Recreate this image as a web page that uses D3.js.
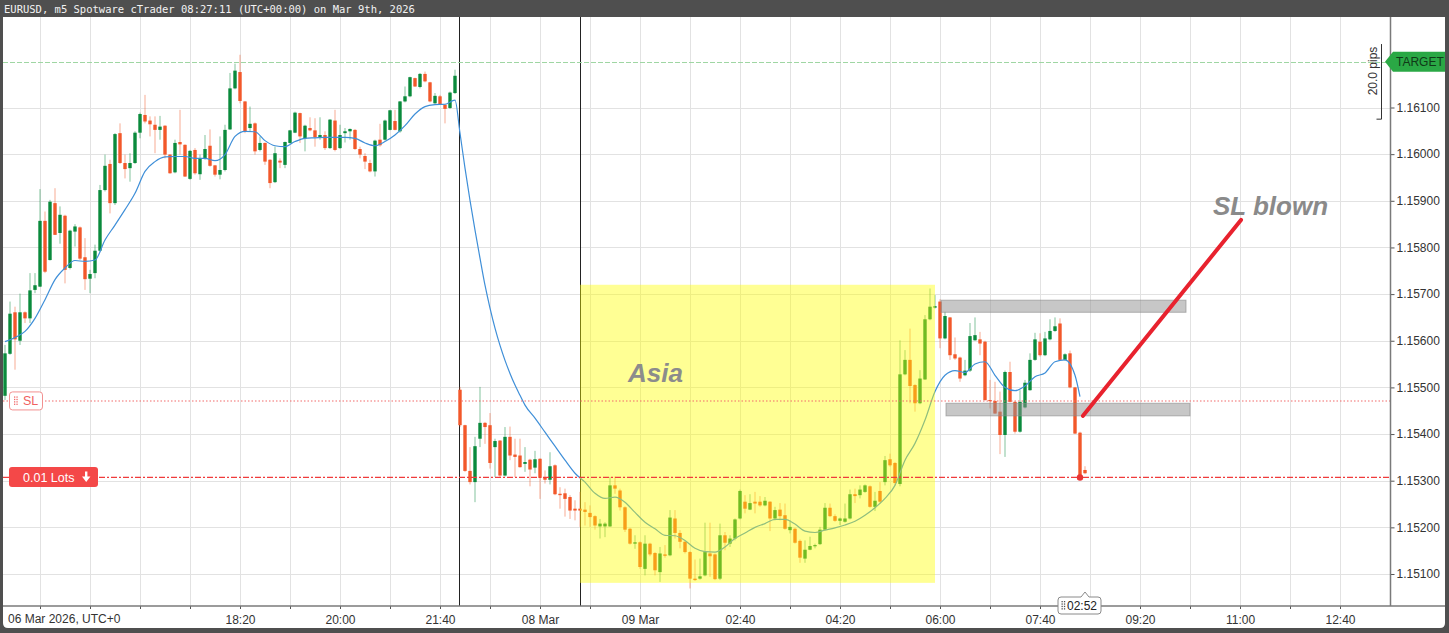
<!DOCTYPE html>
<html><head><meta charset="utf-8">
<script src="https://cdn.jsdelivr.net/npm/d3@7"></script>
<style>html,body{margin:0;padding:0;background:#fff;overflow:hidden}</style>
</head><body>
<svg id="c" width="1449" height="633"></svg>
<script>
// ---- data (EURUSD m5, candle index 0 = 06 Mar 14:25 UTC) ----
const opens = [
1.15482,1.15572,1.15661,1.15600,1.15661,1.15648,1.15709,1.15716,1.15857,1.15773,
1.15895,1.15831,1.15868,1.15756,1.15834,1.15843,1.15779,1.15733,1.15745,1.15793,
1.15923,1.15979,1.15895,1.16045,1.15981,1.15970,1.15981,1.16046,1.16084,1.16072,
1.16063,1.16052,1.16061,1.15999,1.15961,1.16026,1.16020,1.15947,1.16009,1.15957,
1.15991,1.16018,1.15976,1.15956,1.15966,1.16053,1.16141,1.16176,1.16113,1.16056,
1.16066,1.16009,1.16024,1.15988,1.15940,1.15986,1.15977,1.16024,1.16046,1.16088,
1.16034,1.16056,1.16051,1.16036,1.16041,1.16013,1.16072,1.16013,1.16045,1.16049,
1.16052,1.16011,1.15996,1.15981,1.15963,1.16031,1.16031,1.16052,1.16071,1.16049,
1.16113,1.16124,1.16163,1.16144,1.16172,1.16154,1.16109,1.16124,1.16106,1.16099,
1.16131,1.15495,1.15419,1.15321,1.15297,1.15390,1.15424,1.15419,1.15372,1.15386,
1.15311,1.15394,1.15356,1.15354,1.15336,1.15345,1.15328,1.15347,1.15306,1.15302,
1.15333,1.15272,1.15273,1.15265,1.15240,1.15240,1.15238,1.15231,1.15224,1.15202,
1.15202,1.15202,1.15290,1.15279,1.15243,1.15197,1.15165,1.15168,1.15111,1.15165,
1.15145,1.15104,1.15142,1.15140,1.15219,1.15188,1.15169,1.15147,1.15090,1.15090,
1.15097,1.15144,1.15142,1.15090,1.15183,1.15165,1.15176,1.15219,1.15255,1.15238,
1.15255,1.15255,1.15247,1.15255,1.15219,1.15238,1.15226,1.15194,1.15197,1.15171,
1.15133,1.15152,1.15160,1.15164,1.15195,1.15242,1.15224,1.15214,1.15212,1.15219,
1.15271,1.15269,1.15276,1.15288,1.15244,1.15278,1.15297,1.15346,1.15338,1.15293,
1.15528,1.15559,1.15505,1.15466,1.15517,1.15646,1.15671,1.15684,1.15605,1.15650,
1.15571,1.15564,1.15526,1.15536,1.15601,1.15603,1.15598,1.15473,1.15471,1.15448,
1.15398,1.15533,1.15469,1.15405,1.15457,1.15494,1.15559,1.15598,1.15569,1.15603,
1.15621,1.15637,1.15559,1.15573,1.15500,1.15403,1.15323];
const highs = [
1.15591,1.15684,1.15673,1.15701,1.15663,1.15745,1.15745,1.15925,1.15877,1.15902,
1.15927,1.15888,1.15870,1.15838,1.15850,1.15845,1.15820,1.15752,1.15806,1.15934,
1.15999,1.15988,1.16045,1.16066,1.15999,1.16002,1.16049,1.16089,1.16127,1.16081,
1.16081,1.16082,1.16062,1.16000,1.16031,1.16095,1.16021,1.16009,1.16013,1.15999,
1.16041,1.16053,1.15977,1.16038,1.16063,1.16174,1.16194,1.16213,1.16114,1.16102,
1.16068,1.16038,1.16025,1.15989,1.16016,1.15991,1.16027,1.16052,1.16091,1.16089,
1.16063,1.16079,1.16077,1.16079,1.16049,1.16075,1.16095,1.16063,1.16056,1.16055,
1.16054,1.16016,1.16002,1.15988,1.16031,1.16065,1.16074,1.16095,1.16095,1.16114,
1.16145,1.16166,1.16164,1.16174,1.16177,1.16155,1.16131,1.16127,1.16107,1.16134,
1.16181,1.15501,1.15420,1.15372,1.15394,1.15501,1.15426,1.15445,1.15390,1.15387,
1.15415,1.15416,1.15390,1.15390,1.15372,1.15347,1.15364,1.15348,1.15322,1.15361,
1.15335,1.15286,1.15283,1.15269,1.15258,1.15276,1.15254,1.15247,1.15226,1.15218,
1.15211,1.15308,1.15309,1.15283,1.15245,1.15199,1.15183,1.15170,1.15183,1.15167,
1.15147,1.15158,1.15162,1.15237,1.15237,1.15194,1.15171,1.15149,1.15131,1.15133,
1.15210,1.15210,1.15144,1.15208,1.15190,1.15183,1.15219,1.15281,1.15269,1.15271,
1.15276,1.15267,1.15265,1.15256,1.15244,1.15252,1.15251,1.15215,1.15199,1.15174,
1.15172,1.15180,1.15165,1.15201,1.15252,1.15251,1.15228,1.15221,1.15251,1.15281,
1.15283,1.15290,1.15292,1.15290,1.15276,1.15297,1.15353,1.15358,1.15340,1.15601,
1.15580,1.15626,1.15507,1.15537,1.15655,1.15712,1.15698,1.15689,1.15662,1.15651,
1.15607,1.15566,1.15559,1.15638,1.15650,1.15619,1.15600,1.15516,1.15512,1.15491,
1.15536,1.15555,1.15471,1.15494,1.15516,1.15573,1.15617,1.15616,1.15619,1.15646,
1.15650,1.15648,1.15573,1.15579,1.15501,1.15405,1.15331];
const lows = [
1.15473,1.15570,1.15538,1.15591,1.15638,1.15638,1.15702,1.15715,1.15745,1.15772,
1.15827,1.15808,1.15723,1.15753,1.15802,1.15773,1.15709,1.15702,1.15734,1.15791,
1.15920,1.15873,1.15891,1.15979,1.15948,1.15941,1.15979,1.16034,1.16066,1.16038,
1.16002,1.16031,1.15991,1.15958,1.15959,1.15999,1.15951,1.15945,1.15956,1.15945,
1.15988,1.15973,1.15952,1.15946,1.15963,1.16052,1.16139,1.16109,1.16045,1.16049,
1.15999,1.16006,1.15977,1.15927,1.15938,1.15970,1.15970,1.16022,1.16045,1.16024,
1.16006,1.16049,1.16016,1.16031,1.16009,1.16011,1.16006,1.16011,1.16025,1.16031,
1.16009,1.15991,1.15968,1.15961,1.15952,1.16016,1.16029,1.16051,1.16051,1.16046,
1.16111,1.16122,1.16144,1.16141,1.16154,1.16111,1.16107,1.16106,1.16066,1.16097,
1.16129,1.15415,1.15319,1.15292,1.15254,1.15372,1.15379,1.15326,1.15308,1.15308,
1.15309,1.15344,1.15308,1.15328,1.15319,1.15288,1.15316,1.15261,1.15294,1.15292,
1.15269,1.15240,1.15223,1.15218,1.15215,1.15201,1.15204,1.15201,1.15195,1.15176,
1.15179,1.15201,1.15272,1.15236,1.15190,1.15163,1.15154,1.15111,1.15097,1.15138,
1.15097,1.15083,1.15135,1.15138,1.15176,1.15155,1.15144,1.15069,1.15085,1.15088,
1.15095,1.15094,1.15087,1.15087,1.15151,1.15158,1.15172,1.15217,1.15230,1.15237,
1.15230,1.15244,1.15245,1.15192,1.15215,1.15215,1.15195,1.15187,1.15165,1.15124,
1.15124,1.15151,1.15155,1.15162,1.15194,1.15222,1.15212,1.15205,1.15210,1.15217,
1.15252,1.15262,1.15274,1.15242,1.15235,1.15251,1.15290,1.15330,1.15290,1.15288,
1.15526,1.15466,1.15448,1.15464,1.15516,1.15644,1.15669,1.15584,1.15603,1.15559,
1.15559,1.15512,1.15524,1.15533,1.15600,1.15569,1.15471,1.15455,1.15443,1.15357,
1.15351,1.15468,1.15401,1.15403,1.15455,1.15493,1.15557,1.15566,1.15567,1.15601,
1.15619,1.15557,1.15557,1.15498,1.15400,1.15305,1.15314];
const closes = [
1.15573,1.15658,1.15603,1.15661,1.15648,1.15708,1.15719,1.15857,1.15748,1.15898,
1.15827,1.15870,1.15752,1.15836,1.15845,1.15776,1.15732,1.15743,1.15793,1.15923,
1.15975,1.15895,1.16043,1.15981,1.15968,1.15981,1.16046,1.16086,1.16070,1.16064,
1.16052,1.16059,1.15999,1.15959,1.16024,1.16021,1.15952,1.16007,1.15959,1.15991,
1.16011,1.15975,1.15956,1.15966,1.16052,1.16141,1.16179,1.16114,1.16049,1.16065,
1.16006,1.16024,1.15984,1.15938,1.16002,1.15982,1.16026,1.16051,1.16089,1.16038,
1.16061,1.16051,1.16036,1.16041,1.16013,1.16074,1.16009,1.16041,1.16049,1.16054,
1.16011,1.15999,1.15984,1.15963,1.16029,1.16019,1.16072,1.16094,1.16052,1.16113,
1.16124,1.16165,1.16145,1.16172,1.16156,1.16113,1.16125,1.16107,1.16097,1.16132,
1.16168,1.15419,1.15321,1.15297,1.15374,1.15424,1.15415,1.15338,1.15385,1.15311,
1.15394,1.15354,1.15351,1.15329,1.15340,1.15324,1.15346,1.15306,1.15302,1.15331,
1.15271,1.15269,1.15261,1.15236,1.15236,1.15236,1.15233,1.15222,1.15204,1.15208,
1.15208,1.15290,1.15283,1.15243,1.15195,1.15165,1.15168,1.15115,1.15165,1.15142,
1.15108,1.15144,1.15139,1.15221,1.15188,1.15169,1.15147,1.15090,1.15087,1.15095,
1.15147,1.15138,1.15089,1.15183,1.15167,1.15176,1.15217,1.15278,1.15240,1.15252,
1.15251,1.15247,1.15257,1.15219,1.15237,1.15224,1.15197,1.15201,1.15167,1.15135,
1.15152,1.15160,1.15162,1.15195,1.15242,1.15224,1.15214,1.15219,1.15219,1.15271,
1.15267,1.15281,1.15290,1.15244,1.15257,1.15255,1.15344,1.15333,1.15295,1.15528,
1.15559,1.15503,1.15466,1.15519,1.15646,1.15673,1.15674,1.15605,1.15653,1.15569,
1.15562,1.15519,1.15536,1.15610,1.15612,1.15594,1.15473,1.15471,1.15444,1.15398,
1.15533,1.15469,1.15405,1.15469,1.15510,1.15559,1.15603,1.15569,1.15605,1.15621,
1.15631,1.15559,1.15571,1.15500,1.15401,1.15308,1.15316];

// moving average (candle index / value)
const maIdx = [0,2,4,6,8,10,12,14,16,18,20,22,24,26,28,30,32,34,36,38,40,42,44,46,48,50,52,54,56,58,60,62,64,66,68,70,72,74,76,78,80,82,84,86,88,90,
91,92,93,94,95,96,97,98,99,100,101,102,103,104,
106,108,110,112,114,116,118,120,122,124,126,128,
130,132,134,136,138,140,142,144,146,148,150,152,154,156,158,160,162,164,166,168,170,172,174,176,178,
180,182,184,186,188,190,192,194,196,198,200,202,204,206,208,210,212,214,215];
const maVal = [1.15598,1.15607,1.15620,1.15648,1.15688,1.15731,1.15756,1.15772,1.15770,1.15773,
1.15816,1.15848,1.15881,1.15916,1.15963,1.15984,1.15994,1.15995,1.15995,1.15991,
1.15991,1.15986,1.15999,1.16038,1.16049,1.16048,1.16029,1.16018,1.16016,1.16027,
1.16034,1.16035,1.16036,1.16036,1.16036,1.16034,1.16024,1.16018,1.16027,1.16041,
1.16061,1.16086,1.16102,1.16106,1.16107,1.16116,
1.16045,1.15970,1.15901,1.15837,1.15777,1.15719,1.15670,1.15627,1.15590,1.15558,1.15530,1.15505,1.15483,1.15462,
1.15434,1.15404,1.15374,1.15344,1.15316,1.15297,1.15273,1.15262,1.15265,1.15254,1.15232,1.15211,
1.15197,1.15183,1.15182,1.15172,1.15155,1.15148,1.15147,1.15158,1.15176,1.15188,1.15200,1.15208,1.15217,1.15217,1.15207,1.15192,1.15189,1.15194,1.15199,1.15205,1.15213,1.15226,1.15242,1.15262,1.15290,
1.15344,1.15380,1.15430,1.15491,1.15526,1.15536,1.15532,1.15550,1.15555,1.15526,1.15500,1.15493,1.15503,1.15523,1.15531,1.15555,1.15559,1.15526,1.15480];

const priceTicks = [1.151,1.152,1.153,1.154,1.155,1.156,1.157,1.158,1.159,1.160,1.161];
const gridIdx = d3.range(7, 268, 10);
const labelIdx = [47,67,87,107,127,147,167,187,207,227,247,267];
const labelText = ["18:20","20:00","21:40","08 Mar","09 Mar","02:40","04:20","06:00","07:40","09:20","11:00","12:40"];
const firstLabel = "06 Mar 2026, UTC+0";
const title = "EURUSD, m5 Spotware cTrader 08:27:11 (UTC+00:00) on Mar 9th, 2026";
const separatorIdx = [90.8, 115];
const targetPrice = 1.16198, slPrice = 1.15471, entryPrice = 1.15307;
const asiaBox = {i0:115, i1:186, p0:1.15720, p1:1.15081};
const zones = [{i0:187.2, i1:236.2, p0:1.15687, p1:1.15661},{i0:188.2, i1:237, p0:1.15466, p1:1.15439}];
const arrowLine = {i0:215.6, p0:1.15439, i1:247.2, p1:1.15859};
const pipsBracket = {p0:1.16236, p1:1.16075};
const entryIdx = 215, currentIdx = 216;

// ---- drawing ----
const svg = d3.select('#c');
const FONT = "'Liberation Sans', Arial, sans-serif";
const R = 1390.5, B = 606, T = 17, L = 3;
const x = d3.scaleLinear().domain([0, 277]).range([5, 1390]);
const y = d3.scaleLinear().domain([1.151, 1.161]).range([574, 107.5]);
const px = v => Math.round(v) + 0.5;

svg.append('rect').attr('width',1449).attr('height',633).attr('fill','#4f4f4f');
svg.append('path').attr('d','M3,17 H1445 V623 Q1445,628 1440,628 H8 Q3,628 3,623 Z').attr('fill','#fff');
svg.append('text').attr('x',4).attr('y',12.5).attr('fill','#f2f2f2')
  .attr('font-family',"'DejaVu Sans Mono', monospace").attr('font-size',10.5).text(title);

const defs = svg.append('defs');
defs.append('clipPath').attr('id','clip').append('rect').attr('x',L).attr('y',T).attr('width',R-L).attr('height',B-T);
const g = svg.append('g').attr('clip-path','url(#clip)');

// grid
g.selectAll('line.hg').data(priceTicks).join('line')
  .attr('x1',L).attr('x2',R).attr('y1',d=>px(y(d))).attr('y2',d=>px(y(d))).attr('stroke','#e2e2e2');
g.selectAll('line.vg').data(gridIdx).join('line')
  .attr('x1',d=>px(x(d))).attr('x2',d=>px(x(d))).attr('y1',T).attr('y2',B).attr('stroke','#e2e2e2');

// period separators
g.selectAll('line.sep').data(separatorIdx).join('line')
  .attr('x1',d=>px(x(d))).attr('x2',d=>px(x(d))).attr('y1',T).attr('y2',B).attr('stroke','#222').attr('stroke-width',1);

// target line
g.append('line').attr('x1',L).attr('x2',R).attr('y1',px(y(targetPrice))).attr('y2',px(y(targetPrice)))
  .attr('stroke','#9fd6a3').attr('stroke-width',1.2).attr('stroke-dasharray','5,2');

// candles
const idx = d3.range(opens.length);
const bull = '#0a8a3c', bear = '#f2582a';
const isUp = i => closes[i] >= opens[i];
g.selectAll('line.wick').data(idx).join('line')
  .attr('x1',i=>x(i)).attr('x2',i=>x(i)).attr('y1',i=>y(highs[i])).attr('y2',i=>y(lows[i]))
  .attr('stroke',i=>isUp(i)?bull:bear).attr('stroke-opacity',0.5).attr('stroke-width',1);
const bw = 3.4;
g.selectAll('rect.body').data(idx).join('rect')
  .attr('x',i=>x(i)-bw/2).attr('width',bw)
  .attr('y',i=>y(Math.max(opens[i],closes[i])))
  .attr('height',i=>Math.max(1.2, Math.abs(y(opens[i])-y(closes[i]))))
  .attr('fill',i=>isUp(i)?bull:bear);

// moving average
const maPts = maIdx.map((d,k)=>[d, maVal[k]]);
g.append('path').datum(maPts)
  .attr('d', d3.line().x(d=>x(d[0])).y(d=>y(d[1])).curve(d3.curveMonotoneX))
  .attr('fill','none').attr('stroke','#3f8fd8').attr('stroke-width',1.2);

// Asia session box
g.append('rect').attr('x',x(asiaBox.i0)).attr('width',x(asiaBox.i1)-x(asiaBox.i0))
  .attr('y',y(asiaBox.p0)).attr('height',y(asiaBox.p1)-y(asiaBox.p0))
  .attr('fill','#ffff00').attr('fill-opacity',0.42);
g.append('text').attr('x',x(124.6)).attr('y',y(1.15512)).attr('font-family',FONT)
  .attr('font-size',26).attr('font-weight','bold').attr('font-style','italic').attr('fill','#8c8c8c').text('Asia');

// zones
g.selectAll('rect.zone').data(zones).join('rect')
  .attr('x',d=>x(d.i0)).attr('width',d=>x(d.i1)-x(d.i0))
  .attr('y',d=>y(d.p0)).attr('height',d=>y(d.p1)-y(d.p0))
  .attr('fill','#8f8f8f').attr('fill-opacity',0.5).attr('stroke','#8a8a8a').attr('stroke-opacity',0.6);

// SL / entry lines
g.append('line').attr('x1',L).attr('x2',R).attr('y1',y(slPrice)).attr('y2',y(slPrice))
  .attr('stroke','#f26a6a').attr('stroke-width',1.1).attr('stroke-dasharray','1.5,2');
g.append('line').attr('x1',L).attr('x2',R).attr('y1',y(entryPrice)).attr('y2',y(entryPrice))
  .attr('stroke','#f03c3c').attr('stroke-width',1.2).attr('stroke-dasharray','6,2,2,2');

// SL blown arrow line
g.append('line').attr('x1',x(arrowLine.i0)).attr('y1',y(arrowLine.p0))
  .attr('x2',x(arrowLine.i1)).attr('y2',y(arrowLine.p1))
  .attr('stroke','#e8222e').attr('stroke-width',4).attr('stroke-linecap','round');
g.append('text').attr('x',x(241.6)).attr('y',y(1.15870)).attr('font-family',FONT)
  .attr('font-size',26).attr('font-weight','bold').attr('font-style','italic').attr('fill','#8a8a8a').text('SL blown');

// entry dot
g.append('circle').attr('cx',x(entryIdx)).attr('cy',y(entryPrice)).attr('r',3.2).attr('fill','#e83434');

// pips bracket
const bx = 1381.5;
g.append('path').attr('d',`M${bx},${y(pipsBracket.p0)} V${y(pipsBracket.p1)} H${bx-5}`)
  .attr('fill','none').attr('stroke','#333').attr('stroke-width',1);
g.append('text').attr('transform',`translate(1377,71) rotate(-90)`)
  .attr('text-anchor','middle').attr('font-family',FONT).attr('font-size',12).attr('fill','#333').text('20.0 pips');

// axes
const ax = svg.append('g').attr('transform',`translate(0,${B})`)
  .call(d3.axisBottom(x).tickValues(gridIdx).tickSize(3).tickPadding(6)
    .tickFormat(d => { const k = labelIdx.indexOf(d); return k>=0 ? labelText[k] : ''; }));
ax.select('.domain').remove();
ax.selectAll('line').attr('stroke','#555');
ax.selectAll('text').attr('font-family',FONT).attr('font-size',12).attr('fill','#333');
svg.append('text').attr('x',x(0.6)).attr('y',B+17).attr('font-family',FONT).attr('font-size',12).attr('fill','#333').text(firstLabel);

const ay = svg.append('g').attr('transform',`translate(${R},0)`)
  .call(d3.axisRight(y).tickValues(priceTicks).tickSize(4).tickPadding(2).tickFormat(d3.format('.5f')));
ay.select('.domain').remove();
ay.selectAll('line').attr('stroke','#555');
ay.selectAll('text').attr('font-family',FONT).attr('font-size',12).attr('fill','#333');

svg.append('line').attr('x1',L).attr('x2',1445).attr('y1',B).attr('y2',B).attr('stroke','#7a7a7a').attr('stroke-width',1.5);
svg.append('line').attr('x1',R).attr('x2',R).attr('y1',T).attr('y2',B).attr('stroke','#7a7a7a').attr('stroke-width',1.5);

// TARGET label
const ty = y(targetPrice);
svg.append('path').attr('d',`M1385,${ty} L1393,${ty-10} H1445 V${ty+10} H1393 Z`).attr('fill','#2aa845');
svg.append('text').attr('x',1396).attr('y',ty+4.5).attr('font-family',FONT).attr('font-size',12).attr('fill','#103a18').text('TARGET');

// grip helper
function grip(gx, gy, color){
  for (let c=0;c<2;c++) for (let r=0;r<4;r++)
    svg.append('rect').attr('x',gx+c*2.4).attr('y',gy+r*2.4).attr('width',1.3).attr('height',1.3).attr('fill',color);
}
// SL label
const sy = y(slPrice);
svg.append('rect').attr('x',9.5).attr('y',sy-9).attr('width',33).attr('height',18).attr('rx',3)
  .attr('fill','#fff').attr('stroke','#f29090');
grip(14, sy-4.5, '#f06a6a');
svg.append('text').attr('x',23).attr('y',sy+4.5).attr('font-family',FONT).attr('font-size',12.5).attr('fill','#f06060').text('SL');

// Lots label
const ly = y(entryPrice);
svg.append('rect').attr('x',9).attr('y',ly-10.5).attr('width',89).attr('height',20).attr('rx',3).attr('fill','#f44848');
svg.append('text').attr('x',23).attr('y',ly+4.5).attr('font-family',FONT).attr('font-size',12.5).attr('fill','#fff').text('0.01 Lots');
svg.append('path').attr('d',`M85,${ly-6} h2.4 v5 h3 l-4.2,5.5 l-4.2,-5.5 h3 z`).attr('fill','#fff');

// countdown label
const cx0 = x(currentIdx);
svg.append('path').attr('d',`M1061,597 H${cx0-4} L${cx0},592 L${cx0+4},597 H1098 Q1101,597 1101,600 V611 Q1101,614 1098,614 H1061 Q1058,614 1058,611 V600 Q1058,597 1061,597 Z`)
  .attr('fill','#fff').attr('stroke','#8a8a8a');
grip(1061.5, 601, '#555');
svg.append('text').attr('x',1067).attr('y',610).attr('font-family',FONT).attr('font-size',12).attr('fill','#222').text('02:52');
</script>
</body></html>
